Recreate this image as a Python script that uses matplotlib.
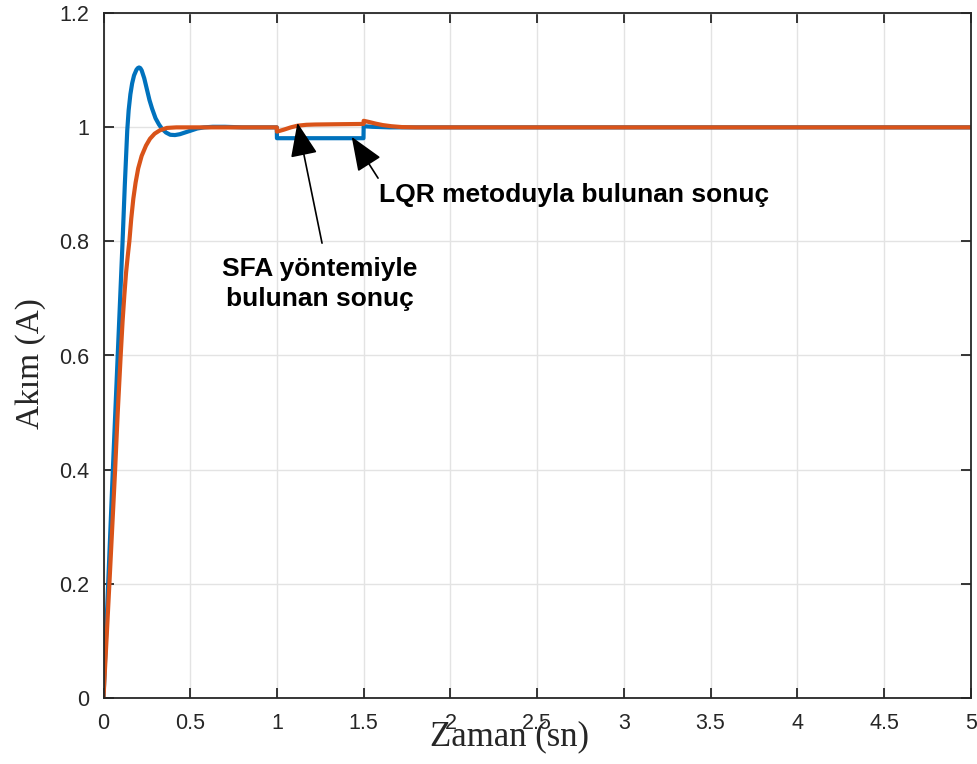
import matplotlib
matplotlib.use("Agg")
import matplotlib.pyplot as plt

# ---- data ----
t_lqr = [0, 0.027, 0.054, 0.068, 0.082, 0.096, 0.110, 0.123, 0.137, 0.145, 0.155,
         0.165, 0.176, 0.190, 0.198, 0.205, 0.212, 0.220, 0.235, 0.250, 0.265, 0.280,
         0.300, 0.320, 0.336, 0.360, 0.385, 0.412, 0.440, 0.470, 0.500, 0.540, 0.580,
         0.630, 0.700, 0.800, 0.999, 1.000, 1.100, 1.499, 1.500, 1.550, 1.650, 5.0]
i_lqr = [0, 0.2, 0.4, 0.5, 0.6, 0.7, 0.8, 0.9, 0.995, 1.03, 1.058,
         1.077, 1.091, 1.101, 1.104, 1.105, 1.104, 1.100, 1.086, 1.067, 1.048, 1.033,
         1.016, 1.005, 0.998, 0.991, 0.987, 0.9865, 0.988, 0.991, 0.994, 0.998, 1.000,
         1.001, 1.001, 1.000, 1.000, 0.981, 0.981, 0.981, 1.002, 1.001, 1.000, 1.0]

t_sfa = [0, 0.034, 0.067, 0.082, 0.099, 0.110, 0.120, 0.130, 0.140, 0.149, 0.160,
         0.172, 0.185, 0.200, 0.220, 0.245, 0.268, 0.295, 0.326, 0.365, 0.420,
         0.999, 1.000, 1.040, 1.080, 1.120, 1.170, 1.220, 1.350, 1.499, 1.500,
         1.530, 1.570, 1.610, 1.660, 1.720, 1.800, 5.0]
i_sfa = [0, 0.2, 0.4, 0.5, 0.6, 0.66, 0.705, 0.745, 0.775, 0.8, 0.84,
         0.875, 0.903, 0.928, 0.950, 0.968, 0.980, 0.989, 0.995, 0.999, 1.0,
         1.0, 0.9925, 0.996, 1.0, 1.003, 1.0045, 1.005, 1.0055, 1.006, 1.0115,
         1.0095, 1.0065, 1.004, 1.002, 1.0005, 1.0, 1.0]

x_ticks = [0, 0.5, 1, 1.5, 2, 2.5, 3, 3.5, 4, 4.5, 5]
x_ticklabels = ["0", "0.5", "1", "1.5", "2", "2.5", "3", "3.5", "4", "4.5", "5"]
y_ticks = [0, 0.2, 0.4, 0.6, 0.8, 1.0, 1.2]
y_ticklabels = ["0", "0.2", "0.4", "0.6", "0.8", "1", "1.2"]

xlabel = "Zaman (sn)"
ylabel = "Akım (A)"
note_lqr = "LQR metoduyla bulunan sonuç"
note_sfa = "SFA yöntemiyle\nbulunan sonuç"

# ---- figure ----
W, H = 977, 764
fig = plt.figure(figsize=(W / 100, H / 100), dpi=100)
ax = fig.add_axes([103.5 / W, 1 - 697.7 / H, (970.7 - 103.5) / W, (697.7 - 13.3) / H])

blue = "#0072BD"
orange = "#D95319"
ax.plot(t_lqr, i_lqr, color=blue, lw=3.0, solid_joinstyle="round")
ax.plot(t_sfa, i_sfa, color=orange, lw=3.0, solid_joinstyle="round")

ax.set_xlim(0, 5)
ax.set_ylim(0, 1.2)
ax.set_xticks(x_ticks)
ax.set_xticklabels(x_ticklabels)
ax.set_yticks(y_ticks)
ax.set_yticklabels(y_ticklabels)
ax.grid(True, color="#e3e3e3", lw=1.0)
ax.set_axisbelow(True)

for s in ax.spines.values():
    s.set_color("#262626")
    s.set_linewidth(1.3)
ax.tick_params(direction="in", length=7, width=1.3, color="#262626",
               top=True, right=True, labelsize=15.5, labelcolor="#262626")
ax.tick_params(axis="x", pad=11)
ax.tick_params(axis="y", pad=10)
for lab in ax.get_xticklabels() + ax.get_yticklabels():
    lab.set_family("Liberation Sans")

# axis labels (serif, placed as in reference)
fig.text(510 / W, 1 - 737 / H, xlabel, family="Liberation Serif", fontsize=25,
         ha="center", va="center", color="#262626")
fig.text(31 / W, 1 - 364 / H, ylabel, family="Liberation Serif", fontsize=24,
         ha="center", va="center", rotation=90, color="#262626")

# annotations
arrow_kw = dict(arrowstyle="-|>,head_length=0.85,head_width=0.34", color="black",
                lw=1.2, mutation_scale=25, shrinkA=0, shrinkB=0)
ax.annotate("", xy=(1.118, 1.008), xytext=(1.26, 0.797), arrowprops=arrow_kw)
ax.annotate("", xy=(1.431, 0.9835), xytext=(1.583, 0.911), arrowprops=arrow_kw)

ax.text(1.589, 0.882, note_lqr, family="Liberation Sans", fontweight="bold",
        fontsize=19, ha="left", va="center", color="black")
ax.text(1.249, 0.725, note_sfa, family="Liberation Sans", fontweight="bold",
        fontsize=19, ha="center", va="center", color="black", linespacing=1.3)

fig.savefig("out.png", dpi=100)
